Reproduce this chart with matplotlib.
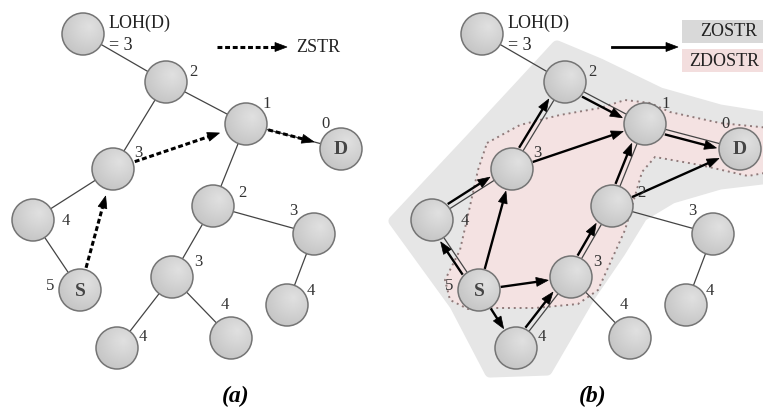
import numpy as np
import matplotlib.pyplot as plt
from matplotlib.patches import Circle, Polygon, Rectangle

plt.rcParams['font.family'] = ['Liberation Serif', 'DejaVu Serif']

# node centres of the left network (pixels), the right one is the same graph shifted
names = ['top', 'n2', 'n1', 'D', 'n3L', 'n4L', 'S', 'n2m', 'n3R', 'n4R', 'n3m', 'n4bl', 'n4br']
node_x = [83, 166, 246, 341, 113, 33, 80, 213, 314, 287, 172, 117, 231]
node_y = [34, 82, 124, 149, 169, 220, 290, 206, 234, 305, 277, 348, 338]
hops = ['', '2', '1', '0', '3', '4', '5', '2', '3', '4', '3', '4', '4']
hop_dx = [0, 27, 21, -15, 25, 33, -30, 29, -21, 24, 26, 26, -6]
hop_dy = [0, -10, -20, -25, -16, 1, -4, -13, -23, -14, -15, -11, -33]

links = [('top', 'n2'), ('n2', 'n1'), ('n2', 'n3L'), ('n1', 'D'), ('n1', 'n2m'),
         ('n3L', 'n4L'), ('n4L', 'S'), ('n2m', 'n3R'), ('n2m', 'n3m'),
         ('n3R', 'n4R'), ('n3m', 'n4bl'), ('n3m', 'n4br')]
zstr_path = [('S', 'n3L'), ('n3L', 'n1'), ('n1', 'D')]
# (from, to, side) side: shift of the arrow off a parallel link
zostr_arrows = [('S', 'n4L', -1), ('n4L', 'n3L', -1), ('n3L', 'n2', -1), ('n2', 'n1', 1),
                ('n3L', 'n1', 0), ('n1', 'D', 1), ('n2m', 'n1', -1), ('n2m', 'D', 0),
                ('n3m', 'n2m', -1), ('S', 'n3L', 0), ('S', 'n3m', 0), ('S', 'n4bl', 0),
                ('n4bl', 'n3m', -1)]

# zone outlines for panel (b)
zostr_zone = [(557, 46), (600, 64), (660, 93), (720, 110), (770, 118), (770, 178),
              (720, 184), (672, 198), (642, 216), (620, 252), (590, 296), (547, 370),
              (490, 372), (455, 305), (394, 221), (470, 140), (522, 84)]
zdostr_zone = [(487, 143), (520, 125), (560, 115), (600, 108), (625, 100), (650, 103),
               (670, 112), (720, 123), (770, 128), (770, 172), (748, 176), (700, 165),
               (655, 157), (642, 172), (625, 230), (598, 290), (578, 304), (535, 308),
               (495, 308), (468, 309), (450, 300), (445, 280), (460, 250), (468, 215),
               (478, 170)]

R = 21
SHIFT = 399

fig = plt.figure(figsize=(7.63, 4.08), dpi=100)
ax = fig.add_axes([0, 0, 1, 1])
ax.set_xlim(0, 763)
ax.set_ylim(408, 0)
ax.axis('off')

pos = {n: np.array([x, y], float) for n, x, y in zip(names, node_x, node_y)}


def head(tip, d, color='k', L=12, W=9):
    perp = np.array([-d[1], d[0]])
    base = tip - L * d
    ax.add_patch(Polygon([tip, base + W / 2 * perp, base - W / 2 * perp],
                         closed=True, fc=color, ec=color, lw=0.5, zorder=4))


def arrow(p, q, dashed=False, side=0, gap=3):
    d = q - p
    d = d / np.hypot(*d)
    nrm = np.array([-d[1], d[0]])
    off = side * 5 * nrm
    a = p + d * (R + 2) + off
    tip = q - d * (R + gap) + off
    end = tip - d * 8
    if dashed:
        ax.plot([a[0], end[0]], [a[1], end[1]], color='k', lw=2.2,
                linestyle=(0, (1.6, 0.9)), solid_capstyle='butt', zorder=4)
    else:
        ax.plot([a[0], end[0]], [a[1], end[1]], color='k', lw=1.7, zorder=4)
    head(tip, d)


def node(c):
    n = 40
    xs = np.linspace(c[0] - R, c[0] + R, n)
    ys = np.linspace(c[1] - R, c[1] + R, n)
    gx, gy = np.meshgrid(xs, ys)
    hx, hy = c[0] + 0.3 * R, c[1] - 0.35 * R
    dist = np.hypot(gx - hx, gy - hy) / (1.5 * R)
    val = 0.88 - 0.11 * np.clip(dist, 0, 1)
    im = ax.imshow(val, cmap='gray', vmin=0, vmax=1, origin='lower',
                   extent=(c[0] - R, c[0] + R, c[1] - R, c[1] + R),
                   interpolation='bilinear', zorder=5)
    circ = Circle(c, R, fc='none', ec='#747474', lw=1.1, zorder=6)
    ax.add_patch(circ)
    im.set_clip_path(circ)


def network(dx, solid):
    P = {k: v + np.array([dx, 0]) for k, v in pos.items()}
    for a, b in links:
        ax.plot([P[a][0], P[b][0]], [P[a][1], P[b][1]], color='#444444', lw=0.9, zorder=3)
    if solid:
        for a, b, s in zostr_arrows:
            arrow(P[a], P[b], side=s, gap=2)
    else:
        for a, b in zstr_path:
            arrow(P[a], P[b], dashed=True, gap=7)
    for i, n in enumerate(names):
        node(P[n])
        if hops[i]:
            ax.text(P[n][0] + hop_dx[i], P[n][1] + hop_dy[i], hops[i], fontsize=12,
                    color='#333333', ha='center', va='center', zorder=7)
    for n in ['D', 'S']:
        ax.text(P[n][0], P[n][1] + 1, n, fontsize=14, fontweight='bold', color='#454545',
                ha='center', va='center', zorder=7)
    tx, ty = P['top']
    ax.text(tx + 26, ty - 11, 'LOH(D)', fontsize=13, color='#222222',
            ha='left', va='center', zorder=7)
    ax.text(tx + 26, ty + 11, '= 3', fontsize=13, color='#222222',
            ha='left', va='center', zorder=7)


# panel (b) zones
ax.add_patch(Polygon(zostr_zone, closed=True, fc='#e6e6e6', ec='#e6e6e6', lw=8,
                     joinstyle='round', zorder=1))
ax.add_patch(Polygon(zdostr_zone, closed=True, fc='#f4e2e2', ec='none', zorder=2))
ax.add_patch(Polygon(zdostr_zone, closed=True, fc='none', ec='#8f7a7a', lw=1.4,
                     linestyle=(0, (1, 2)), zorder=2))

network(0, solid=False)
network(SHIFT, solid=True)

# legends
ax.plot([217, 276], [47, 47], color='k', lw=2.2, linestyle=(0, (1.6, 0.9)),
        solid_capstyle='butt', zorder=4)
head(np.array([287.0, 47.0]), np.array([1.0, 0.0]))
ax.text(296, 47, 'ZSTR', fontsize=13, color='#222222', ha='left', va='center')

ax.plot([612, 668], [47, 47], color='k', lw=2, zorder=4)
head(np.array([678.0, 47.0]), np.array([1.0, 0.0]))
ax.add_patch(Rectangle((682, 20), 90, 23, fc='#d9d9d9', ec='none'))
ax.add_patch(Rectangle((682, 49), 90, 23, fc='#f3dede', ec='none'))
ax.text(700, 32, 'ZOSTR', fontsize=13, color='#222222', ha='left', va='center')
ax.text(689, 61, 'ZDOSTR', fontsize=13, color='#222222', ha='left', va='center')

ax.text(236, 396, '(a)', fontsize=17, fontweight='bold', fontstyle='italic',
        ha='center', va='center')
ax.text(593, 396, '(b)', fontsize=17, fontweight='bold', fontstyle='italic',
        ha='center', va='center')

fig.savefig('out.png', dpi=100)
